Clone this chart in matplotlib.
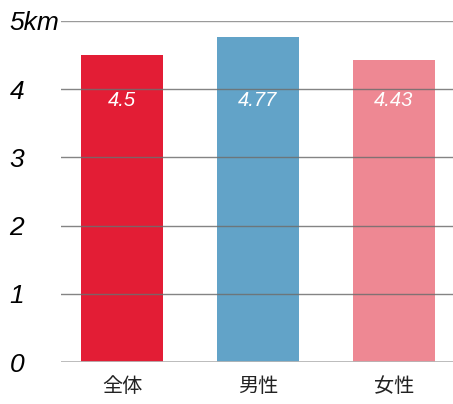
import matplotlib
matplotlib.use("Agg")
import matplotlib.pyplot as plt

# データ
categories = ["全体", "男性", "女性"]
values = [4.5, 4.77, 4.43]
value_labels = ["4.5", "4.77", "4.43"]
bar_colors = ["#E31D35", "#62A3C8", "#EE8893"]
yticks = [0, 1, 2, 3, 4, 5]
ytick_labels = ["0", "1", "2", "3", "4", "5km"]

fig = plt.figure(figsize=(4.53, 4.04), dpi=100)
ax = fig.add_axes([61 / 453, 42 / 404, 392 / 453, 341 / 404])

x = list(range(len(categories)))
ax.bar(x, values, width=0.6, color=bar_colors, zorder=1)

# グリッド線(バーの上に描画)
for t in yticks[1:-1]:
    ax.axhline(t, color="#6e6e6e", lw=1.0, alpha=0.85, zorder=3)
ax.axhline(5, color="#9a9a9a", lw=1.0, zorder=3)
ax.axhline(0, color="#b5b5b5", lw=2.0, zorder=3)

# バー内の数値ラベル
for xi, lab in zip(x, value_labels):
    ax.text(xi, 3.84, lab, color="white", ha="center", va="center",
            fontsize=14.5, style="italic", family="Liberation Sans", zorder=4)

ax.set_xlim(-0.449, 2.434)
ax.set_ylim(0, 5)
ax.set_xticks(x)
ax.set_xticklabels(categories, family=["Noto Sans CJK JP", "DejaVu Sans"],
                   fontsize=14.5, color="#222222")
ax.set_yticks(yticks)
ax.set_yticklabels(ytick_labels, family="Liberation Sans", style="italic",
                   fontsize=19, ha="left")
ax.tick_params(axis="y", length=0, pad=37)
ax.tick_params(axis="x", length=0, pad=10)

for s in ax.spines.values():
    s.set_visible(False)

fig.savefig("out.png", dpi=100)
